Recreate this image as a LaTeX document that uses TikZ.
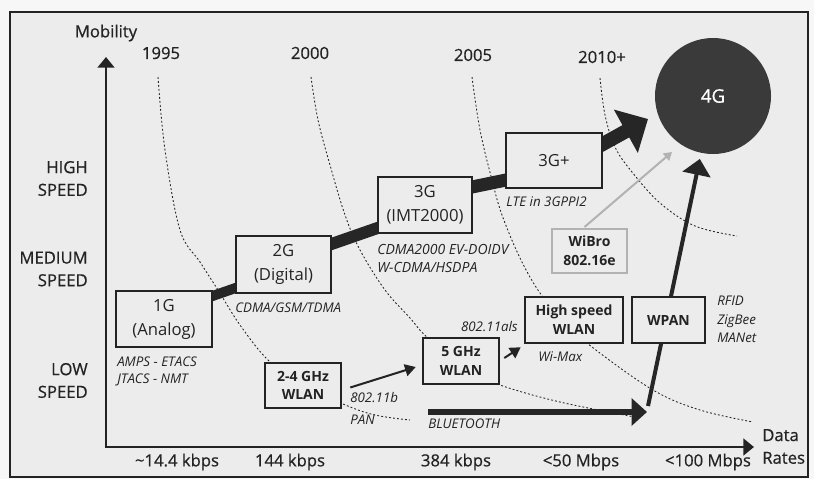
\documentclass[tikz,border=0pt]{standalone}
\usepackage{fontspec}
\setmainfont{Open Sans}
\newfontfamily\semi{Open Sans}[FakeBold=0.6]
\usetikzlibrary{arrows.meta,calc}
\pgfdeclarelayer{back}
\pgfdeclarelayer{mid}
\pgfsetlayers{back,mid,main}
\definecolor{bg}{RGB}{236,236,236}
\definecolor{page}{RGB}{247,247,247}
\definecolor{ink}{RGB}{35,35,35}
\definecolor{band}{RGB}{38,38,38}
\definecolor{light}{RGB}{178,178,178}
\definecolor{circ}{RGB}{58,58,58}
\begin{document}
\begin{tikzpicture}[x=0.75pt,y=-0.75pt,
  sz/.style 2 args={minimum width=#1*0.75pt, minimum height=#2*0.75pt},
  gen/.style={draw=ink, line width=1.9pt, fill=bg, inner sep=0pt, align=center, text=ink, font=\fontsize{12.5}{18}\selectfont},
  wl/.style={gen, font=\bfseries\fontsize{10.5}{14}\selectfont},
  lab/.style={inner sep=0pt, text=ink, font=\itshape\fontsize{10}{13}\selectfont},
  ax/.style={inner sep=0pt, text=ink, font=\semi\fontsize{12.5}{17}\selectfont},
  era/.style={draw=ink, line width=0.65pt, dash pattern=on 1.4pt off 1.6pt},
  bandline/.style={draw=band, line width=#1*0.75pt, shorten <=-4pt, shorten >=-4pt},
  axis/.style={draw=ink, line width=2.2pt, -{Triangle[length=8pt,width=12.5pt]}},
  thin/.style={draw=ink, line width=1.5pt, -{Triangle[length=8pt,width=9pt]}}
]
\useasboundingbox (0,0) rectangle (814,479);

% ---- boxes ----
\node[gen, sz={96}{56}] (g1) at (164,319) {1G\\(Analog)};
\node[gen, sz={95}{57}] (g2) at (283.5,264.5) {2G\\(Digital)};
\node[gen, sz={94}{56}] (g3) at (425,205) {3G\\(IMT2000)};
\node[gen, sz={96}{55}] (g3p) at (554,160.5) {3G+};
\node[wl, draw=light, line width=1.5pt, sz={75}{44}] (wibro) at (589.5,251) {WiBro\\802.16e};
\node[wl, sz={98}{46}] (hs) at (574,320) {High speed\\WLAN};
\node[wl, sz={73}{46}] (wpan) at (668.5,320) {WPAN};
\node[wl, sz={76}{46}] (w5) at (461,361) {5 GHz\\WLAN};
\node[wl, sz={76}{45}] (w24) at (303,385.5) {2-4 GHz\\WLAN};
\node[circle, fill=circ, minimum size=116*0.75pt, inner sep=0pt, text=white, font=\semi\fontsize{14}{16}\selectfont] (g4) at (713,96) {4G};

% ---- free ends ----
\coordinate (o) at (106,447);
\coordinate (ytop) at (106,57);
\coordinate (xend) at (754,447);
\coordinate (t4) at (648,119);
\coordinate (bts) at (428,412);
\coordinate (bt) at (647,412);
\coordinate (wp0) at (648,406);
\coordinate (wbend) at (672,152);

% ---- background ----
\begin{pgfonlayer}{back}
\fill[page] (0,0) rectangle (814,479);
\filldraw[fill=bg, draw=ink, line width=1.3pt] (10,12) rectangle (808,477);
\end{pgfonlayer}

% ---- era curves, bands and arrows ----
\begin{pgfonlayer}{mid}
\draw[era] plot[smooth, tension=0.6] coordinates {(158,77) (165,150) (180,230) (200,262) (218,290) (240,325) (268,360) (300,383) (343,404) (375,415) (410,420)};
\draw[era] plot[smooth, tension=0.6] coordinates {(311,77) (318,120) (330,165) (345,215) (360,250) (385,290) (410,318) (428,338) (470,370) (500,385) (560,402) (640,418)};
\draw[era] plot[smooth, tension=0.6] coordinates {(472,77) (480,130) (492,180) (502,215) (520,258) (540,293) (565,322) (592,347) (653,390) (700,410) (753,422)};
\draw[era] plot[smooth, tension=0.6] coordinates {(600,78) (605,115) (615,147) (632,172) (660,203) (695,226) (737,236)};

\draw[bandline=10] ($(g1.north east)+(0,6)$) -- ($(g2.south west)+(0,-6)$);
\draw[bandline=12] ($(g2.north east)+(0,9)$) -- ($(g3.south west)+(0,-6)$);
\draw[bandline=13] ($(g3.north east)+(0,11)$) -- ($(g3p.south west)+(0,-9)$);
\draw[draw=band, line width=10.5pt, shorten <=-4pt, -{Triangle[length=19pt,width=36pt]}] ($(g3p.north east)+(0,12)$) -- (t4);

\draw[draw=band, line width=4.5pt, -{Triangle[length=11.5pt,width=20pt]}] (bts) -- (bt);
\draw[draw=band, line width=3pt, shorten >=4.5pt, -{Triangle[length=12pt,width=21pt]}] (wp0) -- (g4);
\draw[draw=light, line width=1.5pt, -{Triangle[length=6pt,width=7pt]}] ($(wibro.north)+(-5,-1)$) -- (wbend);
\end{pgfonlayer}

\draw[thin] ($(w24.east)+(8,2)$) -- ($(w5.west)+(-6,6)$);
\draw[thin] ($(w5.east)+(4,-3)$) -- ($(hs.south west)+(-3,3)$);

% ---- axes ----
\draw[axis] (o) -- (ytop);
\draw[axis] ($(o)+(-1.5,0)$) -- (xend);

% ---- axis labels ----
\node[ax] (mob) at (106,33) {Mobility};
\node[ax] (y1) at (161,53) {1995};
\node[ax] (y2) at (310,53) {2000};
\node[ax] (y3) at (473,55) {2005};
\node[ax] (y4) at (602,57) {2010+};
\node[ax, align=right, anchor=east] (hi) at (88,178.5) {HIGH\\SPEED};
\node[ax, align=right, anchor=east] (me) at (88,269) {MEDIUM\\SPEED};
\node[ax, align=right, anchor=east] (lo) at (88,380.5) {LOW\\SPEED};
\node[ax] (r1) at (177,462) {\textasciitilde14.4 kbps};
\node[ax] (r2) at (290,462) {144 kbps};
\node[ax] (r3) at (456,462) {384 kbps};
\node[ax] (r4) at (581,462) {<50 Mbps};
\node[ax] (r5) at (708,462) {<100 Mbps};
\node[ax, align=left, anchor=west] (dr) at (762,446.5) {Data\\Rates};

% ---- italic notes ----
\node[lab, align=left, anchor=west, font=\itshape\fontsize{10}{12.5}\selectfont] (n1) at (117,371.5) {AMPS - ETACS\\JTACS - NMT};
\node[lab, anchor=west] (n2) at (235,308) {CDMA/GSM/TDMA};
\node[lab, align=left, anchor=west, font=\itshape\fontsize{10.5}{13.5}\selectfont] (n3) at (377,258) {CDMA2000 EV-DOIDV\\W-CDMA/HSDPA};
\node[lab, anchor=west] (n4) at (506,202) {LTE in 3GPPI2};
\node[lab, anchor=west] (n5) at (350,398) {802.11b};
\node[lab, anchor=west] (n6) at (350,420) {PAN};
\node[lab, anchor=east] (n7) at (518,327) {802.11als};
\node[lab, anchor=west] (n8) at (538,357) {Wi-Max};
\node[lab, anchor=west] (n9) at (428,424) {BLUETOOTH};
\node[lab, align=left, anchor=west, font=\itshape\fontsize{10}{13.8}\selectfont] (n10) at (717,319.5) {RFID\\ZigBee\\MANet};
\end{tikzpicture}
\end{document}
